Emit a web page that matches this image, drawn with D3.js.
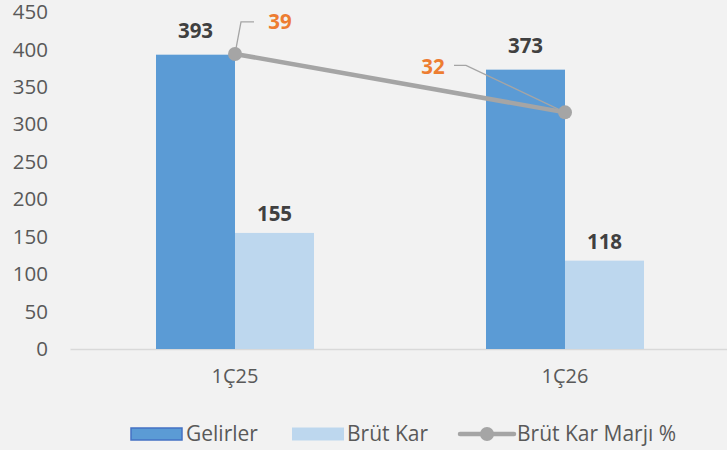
<!DOCTYPE html>
<html><head><meta charset="utf-8">
<script src="https://cdn.jsdelivr.net/npm/d3@7"></script>
<style>
html,body{margin:0;padding:0;background:#F2F2F2;}
svg{display:block;font-family:"Open Sans",sans-serif;}
</style></head>
<body>
<svg id="c" width="727" height="450"></svg>
<script>
const categories = ["1Ç25", "1Ç26"];
const gelirler = [393, 373];
const brutKar = [155, 118];
const marj = [39.4, 31.6];
const marjLabels = ["39", "32"];
const yTicks = [0, 50, 100, 150, 200, 250, 300, 350, 400, 450];
const seriesNames = ["Gelirler", "Brüt Kar", "Brüt Kar Marjı %"];

const svg = d3.select("#c");
const plotL = 70, plotR = 730, plotT = 12, plotB = 349;

const x = d3.scaleBand().domain(categories).range([plotL, plotR]);
const sub = d3.scaleBand().domain(["g", "b"]).range([-79, 79]);
const y = d3.scaleLinear().domain([0, 450]).range([plotB, plotT]);
const y2 = d3.scaleLinear().domain([0, 45]).range([plotB, plotT]);

// y axis labels
const yAxis = d3.axisLeft(y).tickValues(yTicks).tickSize(0).tickPadding(0);
const ga = svg.append("g").attr("transform", `translate(48,0)`).call(yAxis);
ga.select(".domain").remove();
ga.selectAll("text").attr("fill", "#595959").style("font-size", "20.5px").style("font-family", "Open Sans");

// x axis
const xAxis = d3.axisBottom(x).tickSize(0).tickPadding(20);
const gx = svg.append("g").attr("transform", `translate(0,${plotB})`).call(xAxis);
gx.select(".domain").attr("stroke", "#D9D9D9").attr("stroke-width", 1.5);
gx.selectAll("text").attr("fill", "#595959").style("font-size", "20px").style("font-family", "Open Sans");

const cx = c => x(c) + x.bandwidth() / 2;

// bars
svg.selectAll(".bg").data(categories).enter().append("rect")
  .attr("x", c => cx(c) + sub("g")).attr("width", sub.bandwidth())
  .attr("y", (c, i) => y(gelirler[i])).attr("height", (c, i) => y(0) - y(gelirler[i]))
  .attr("fill", "#5B9BD5");
svg.selectAll(".bb").data(categories).enter().append("rect")
  .attr("x", c => cx(c) + sub("b")).attr("width", sub.bandwidth())
  .attr("y", (c, i) => y(brutKar[i])).attr("height", (c, i) => y(0) - y(brutKar[i]))
  .attr("fill", "#BDD7EE");

// bar labels
svg.selectAll(".lg").data(categories).enter().append("text")
  .attr("x", c => cx(c) + sub("g") + sub.bandwidth() / 2)
  .attr("y", (c, i) => y(gelirler[i]) - 17)
  .attr("text-anchor", "middle").attr("fill", "#404040")
  .style("font-size", "20.5px").style("font-weight", "bold")
  .text((c, i) => gelirler[i]);
svg.selectAll(".lb").data(categories).enter().append("text")
  .attr("x", c => cx(c) + sub("b") + sub.bandwidth() / 2)
  .attr("y", (c, i) => y(brutKar[i]) - 12)
  .attr("text-anchor", "middle").attr("fill", "#404040")
  .style("font-size", "20.5px").style("font-weight", "bold")
  .text((c, i) => brutKar[i]);

// line
const pts = categories.map((c, i) => [cx(c), y2(marj[i])]);
// leader lines
svg.append("path")
  .attr("d", `M${pts[0][0]},${pts[0][1]} L${pts[0][0] + 6},${pts[0][1] - 32} L${pts[0][0] + 19},${pts[0][1] - 32}`)
  .attr("fill", "none").attr("stroke", "#A5A5A5").attr("stroke-width", 1.3);
svg.append("path")
  .attr("d", `M${pts[1][0]},${pts[1][1]} L${pts[1][0] - 99},${pts[1][1] - 47} L${pts[1][0] - 111},${pts[1][1] - 47}`)
  .attr("fill", "none").attr("stroke", "#A5A5A5").attr("stroke-width", 1.3);

svg.append("path").attr("d", d3.line()(pts))
  .attr("fill", "none").attr("stroke", "#A5A5A5").attr("stroke-width", 4.5);
svg.selectAll(".pt").data(pts).enter().append("circle")
  .attr("cx", d => d[0]).attr("cy", d => d[1]).attr("r", 7).attr("fill", "#A5A5A5");

svg.append("text").attr("x", pts[0][0] + 45).attr("y", pts[0][1] - 25)
  .attr("text-anchor", "middle").attr("fill", "#ED7D31")
  .style("font-size", "20.5px").style("font-weight", "bold").text(marjLabels[0]);
svg.append("text").attr("x", pts[1][0] - 132).attr("y", pts[1][1] - 38)
  .attr("text-anchor", "middle").attr("fill", "#ED7D31")
  .style("font-size", "20.5px").style("font-weight", "bold").text(marjLabels[1]);

// legend
const ly = 434;
const leg = svg.append("g");
leg.append("rect").attr("x", 131).attr("y", ly - 6).attr("width", 51).attr("height", 12)
  .attr("fill", "#5B9BD5").attr("stroke", "#4472C4").attr("stroke-width", 1.5);
leg.append("text").attr("x", 186).attr("y", ly).attr("dy", "0.35em").attr("fill", "#595959")
  .style("font-size", "21px").text(seriesNames[0]);
leg.append("rect").attr("x", 292).attr("y", ly - 6.5).attr("width", 52).attr("height", 13)
  .attr("fill", "#BDD7EE");
leg.append("text").attr("x", 347).attr("y", ly).attr("dy", "0.35em").attr("fill", "#595959")
  .style("font-size", "21px").text(seriesNames[1]);
leg.append("line").attr("x1", 460).attr("x2", 514).attr("y1", ly).attr("y2", ly)
  .attr("stroke", "#A5A5A5").attr("stroke-width", 4.5).attr("stroke-linecap", "round");
leg.append("circle").attr("cx", 487).attr("cy", ly).attr("r", 7).attr("fill", "#A5A5A5");
leg.append("text").attr("x", 517).attr("y", ly).attr("dy", "0.35em").attr("fill", "#595959")
  .style("font-size", "21px").text(seriesNames[2]);
</script>
</body></html>
